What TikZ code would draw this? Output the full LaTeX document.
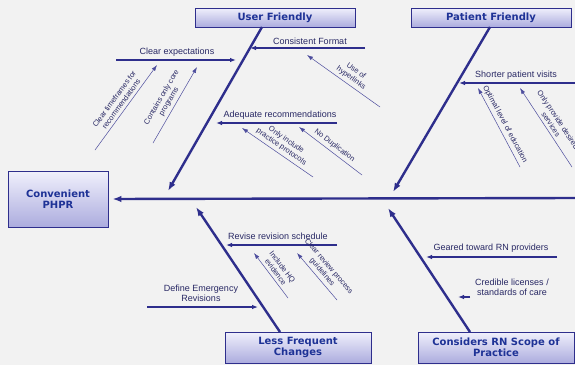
\documentclass[tikz,border=0pt]{standalone}
\usepackage{fontspec}
\setmainfont{Liberation Sans}
\newfontfamily\titlefont{DejaVu Sans}
\usetikzlibrary{arrows.meta}

\definecolor{fishblue}{RGB}{46,46,140}
\definecolor{titleblue}{RGB}{30,50,150}
\definecolor{inkblue}{RGB}{40,40,100}
\definecolor{boxtop}{RGB}{240,240,252}
\definecolor{boxbot}{RGB}{172,172,222}
\definecolor{paper}{RGB}{242,242,242}

\tikzset{
  causebox/.style={draw=fishblue, line width=0.8pt, top color=boxtop, bottom color=boxbot,
    font=\titlefont\bfseries\fontsize{10}{11.5}\selectfont, text=titleblue, align=center, inner sep=0pt},
  bone/.style={draw=fishblue, line width=2.4pt, -{Latex[length=9pt,width=6.5pt]}},
  branch/.style={draw=fishblue, line width=1.1pt, -{Latex[length=6pt,width=4.5pt]}},
  twig/.style={draw=fishblue!85, line width=0.5pt, -{Latex[length=6pt,width=4pt]}},
  branchlabel/.style={font=\fontsize{9}{10}\selectfont, text=inkblue, align=center, inner sep=1pt},
  twiglabel/.style={font=\fontsize{7.5}{8.5}\selectfont, text=inkblue, align=center, sloped, above, inner sep=3pt}
}

\begin{document}
\begin{tikzpicture}[x=1pt, y=-1pt]

\useasboundingbox (0,0) rectangle (575,365);
\fill[paper] (0,0) rectangle (575,365);

% effect and cause boxes
\node[causebox, minimum width=100pt, minimum height=56pt] (effect) at (58,199) {Convenient\\PHPR};
\node[causebox, minimum width=160pt, minimum height=19pt] (uf) at (275,17.5) {User Friendly};
\node[causebox, minimum width=160pt, minimum height=19pt] (pf) at (491,17.5) {Patient Friendly};
\node[causebox, minimum width=146pt, minimum height=31pt] (lfc) at (298,347.5) {Less Frequent\\Changes};
\node[causebox, minimum width=156pt, minimum height=31pt] (rn) at (496,347.5) {Considers RN Scope of\\Practice};

% spine
\coordinate (spine) at (575,198);
\draw[bone, shorten >=4pt] (spine) -- (effect.east);

% main bones
\coordinate (ufA) at (262,27);  \coordinate (ufB) at (168,191);
\coordinate (pfA) at (490,27);  \coordinate (pfB) at (393,192);
\coordinate (lfA) at (280,332); \coordinate (lfB) at (196,207);
\coordinate (rnA) at (470,332); \coordinate (rnB) at (388,208);
\draw[bone] (ufA) -- (ufB);
\draw[bone] (pfA) -- (pfB);
\draw[bone] (lfA) -- (lfB);
\draw[bone] (rnA) -- (rnB);

% User Friendly
\coordinate (ce1) at (116,60);  \coordinate (ce2) at (236,60);
\draw[branch] (ce1) -- (ce2);
\node[branchlabel] (ce) at (177,52) {Clear expectations};

\coordinate (cf1) at (365,48);  \coordinate (cf2) at (250,48);
\draw[branch] (cf1) -- (cf2);
\node[branchlabel] (cf) at (310,41) {Consistent Format};

\coordinate (ar1) at (337,123); \coordinate (ar2) at (216,123);
\draw[branch] (ar1) -- (ar2);
\node[branchlabel] (ar) at (280,115) {Adequate recommendations};

\coordinate (t1a) at (95,150);  \coordinate (t1b) at (157,65);
\draw[twig] (t1a) -- node[twiglabel] {Clear timeframes for\\recommendations} (t1b);
\coordinate (t2a) at (153,143); \coordinate (t2b) at (197,67);
\draw[twig] (t2a) -- node[twiglabel] {Contains only core\\programs} (t2b);
\coordinate (t3a) at (380,107); \coordinate (t3b) at (307,55);
\draw[twig] (t3a) -- node[twiglabel, pos=0.45] {Use of\\hyperlinks} (t3b);
\coordinate (t4a) at (313,177); \coordinate (t4b) at (242,128);
\draw[twig] (t4a) -- node[twiglabel] {Only include\\practice protocols} (t4b);
\coordinate (t5a) at (362,175); \coordinate (t5b) at (299,127);
\draw[twig] (t5a) -- node[twiglabel] {No Duplication} (t5b);

% Patient Friendly
\coordinate (sv1) at (575,83);  \coordinate (sv2) at (459,83);
\draw[branch] (sv1) -- (sv2);
\node[branchlabel] (sv) at (516,75) {Shorter patient visits};

\coordinate (t6a) at (520,167); \coordinate (t6b) at (478,88);
\draw[twig] (t6a) -- node[twiglabel] {Optimal level of education} (t6b);
\coordinate (t7a) at (572,167); \coordinate (t7b) at (520,88);
\draw[twig] (t7a) -- node[twiglabel] {Only provide desired\\services} (t7b);

% Less Frequent Changes
\coordinate (rs1) at (337,245); \coordinate (rs2) at (226,245);
\draw[branch] (rs1) -- (rs2);
\node[branchlabel] (rs) at (278,236) {Revise revision schedule};

\coordinate (de1) at (147,307); \coordinate (de2) at (258,307);
\draw[branch] (de1) -- (de2);
\node[branchlabel] (de) at (201,293) {Define Emergency\\Revisions};

\coordinate (t8a) at (288,298); \coordinate (t8b) at (254,253);
\draw[twig] (t8a) -- node[twiglabel] {Include HQ\\evidence} (t8b);
\coordinate (t9a) at (337,300); \coordinate (t9b) at (297,253);
\draw[twig] (t9a) -- node[twiglabel] {Clear review process\\guidelines} (t9b);

% Considers RN Scope of Practice
\coordinate (gt1) at (557,257); \coordinate (gt2) at (426,257);
\draw[branch] (gt1) -- (gt2);
\node[branchlabel] (gt) at (491,248) {Geared toward RN providers};

\coordinate (cl1) at (470,297); \coordinate (cl2) at (458,297);
\draw[branch] (cl1) -- (cl2);
\node[branchlabel] (cl) at (512,287) {Credible licenses /\\standards of care};

\end{tikzpicture}
\end{document}
